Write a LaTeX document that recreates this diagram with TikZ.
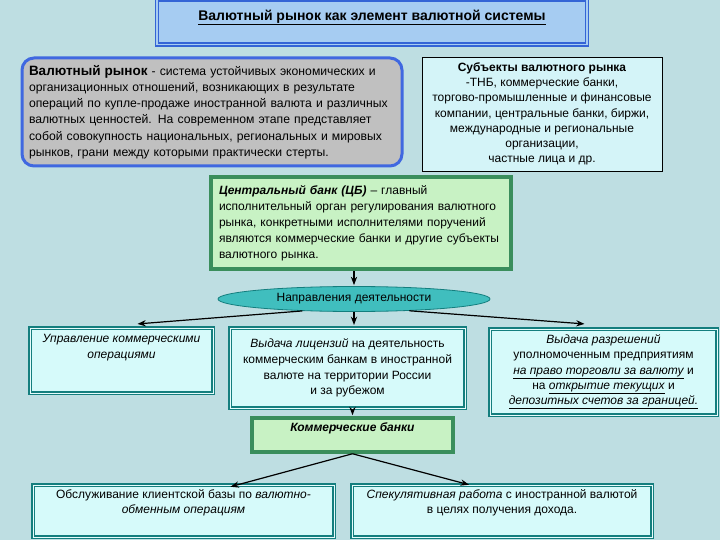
\documentclass[tikz,border=0pt]{standalone}
\usepackage{fontspec}
\setmainfont{Liberation Sans}
\usetikzlibrary{arrows.meta,shapes.geometric,positioning}
\definecolor{bgcol}{RGB}{190,222,226}
\definecolor{titlefill}{RGB}{166,204,242}
\definecolor{titleline}{RGB}{52,100,214}
\definecolor{grayfill}{RGB}{192,192,192}
\definecolor{bluerim}{RGB}{64,104,224}
\definecolor{cyanfill}{RGB}{212,244,248}
\definecolor{greenfill}{RGB}{200,242,196}
\definecolor{greenrim}{RGB}{58,142,92}
\definecolor{tealfill}{RGB}{214,250,250}
\definecolor{tealrim}{RGB}{20,126,126}
\definecolor{ovalfill}{RGB}{64,190,190}
\tikzset{
	>=Stealth,
	link/.style = {->, line width=1.2pt, black, shorten >=1pt},
	titlebox/.style = {
			draw=titleline, fill=titlefill,
			line width=1.5pt, double=titlefill, double distance=1.2pt,
		},
	defbox/.style = {
			draw=bluerim, fill=grayfill, line width=3pt,
			rounded corners=12pt,
		},
	subjbox/.style = {
			draw=black, fill=cyanfill, line width=0.8pt,
		},
	greenbox/.style = {
			draw=greenrim, fill=greenfill, line width=4pt,
		},
	tealbox/.style = {
			draw=tealrim, fill=tealfill, line width=4pt,
			postaction={draw=tealfill!60!white, line width=0.6pt},
		},
	oval/.style = {
			ellipse, draw=tealrim, fill=ovalfill, line width=0.8pt,
			minimum width=272pt, minimum height=25pt, inner sep=0pt,
		},
	boxtext/.style = {
			font=\fontsize{12}{15.8}\selectfont, align=center, inner sep=0pt,
		},
}

\begin{document}
\begin{tikzpicture}[x=1pt,y=-1pt]
	% Canvas
	\useasboundingbox[fill=bgcol] (0,0) rectangle (720,540);

	% Title
	\node[titlebox, minimum width=430pt, minimum height=45pt] (title) at (372,22) {};
	\node[boxtext, below=11pt of title.north, font=\fontsize{14}{16}\selectfont\bfseries]
		(titletext) {\underline{Валютный рынок как элемент валютной системы}};

	% Definition and subjects
	\node[defbox, minimum width=380pt, minimum height=108pt, text width=366pt,
		align=left, inner sep=0pt, font=\fontsize{12.2}{16.3}\selectfont] (market) at (212,112)
		{{\fontsize{13.5}{16.3}\selectfont\bfseries Валютный рынок} - система устойчивых экономических и\\
		организационных отношений, возникающих в результате\\
		операций по купле-продаже иностранной валюта и различных\\
		валютных ценностей. На современном этапе представляет\\
		собой совокупность национальных, региональных и мировых\\
		рынков, грани между которыми практически стерты.};
	\node[subjbox, minimum width=240pt, minimum height=114pt, boxtext,
		font=\fontsize{12}{15.2}\selectfont] (subjects) at (542,114)
		{\textbf{Субъекты валютного рынка}\\
		-ТНБ, коммерческие банки,\\
		торгово-промышленные и финансовые\\
		компании, центральные банки, биржи,\\
		международные и региональные\\
		организации,\\
		частные лица и др.};

	% Central bank
	\node[greenbox, minimum width=300pt, minimum height=92pt, text width=284pt,
		align=left, inner sep=0pt, font=\fontsize{12}{16}\selectfont] (cb) at (361,223)
		{\textbf{\textit{Центральный банк (ЦБ)}} – главный\\
		исполнительный орган регулирования валютного\\
		рынка, конкретными исполнителями поручений\\
		являются коммерческие банки и другие субъекты\\
		валютного рынка.};

	\node[oval, font=\fontsize{12}{14}\selectfont] (dirs) at (354,299) {Направления деятельности};

	% Directions
	\node[tealbox, minimum width=183pt, minimum height=65pt] (mgmt) at (121.5,360.5) {};
	\node[boxtext, below=8pt of mgmt.north] (mgmttext)
		{\textit{Управление коммерческими}\\ \textit{операциями}};
	\node[tealbox, minimum width=235pt, minimum height=80pt, boxtext] (lic) at (347.5,368)
		{\textit{Выдача лицензий} на деятельность\\
		коммерческим банкам в иностранной\\
		валюте на территории России\\
		и за рубежом};
	\node[tealbox, minimum width=227pt, minimum height=86pt, boxtext,
		font=\fontsize{12}{15.2}\selectfont] (perm) at (603.5,372)
		{\textit{Выдача разрешений}\\
		уполномоченным предприятиям\\
		\textit{\underline{на право торговли за валюту}} и\\
		на \textit{\underline{открытие текущих}} и\\
		\textit{\underline{депозитных счетов за границей.}}};

	% Commercial banks
	\node[greenbox, line width=3.5pt, minimum width=201pt, minimum height=34pt] (cbanks) at (352.5,435) {};
	\node[boxtext, below=6pt of cbanks.north] (cbankstext)
		{\textbf{\textit{Коммерческие банки}}};

	\node[tealbox, minimum width=301pt, minimum height=52pt] (serve) at (183.5,511) {};
	\node[boxtext, below=6pt of serve.north] (servetext)
		{Обслуживание клиентской базы по \textit{валютно-}\\ \textit{обменным операциям}};
	\node[tealbox, minimum width=300pt, minimum height=52pt] (spec) at (502,511) {};
	\node[boxtext, below=6pt of spec.north] (spectext)
		{\textit{Спекулятивная работа} с иностранной валютой\\ в целях получения дохода.};

	% Connectors
	\draw[link] (cb.south -| dirs.north) -- (dirs.north);
	\draw[link] (dirs.193) -- ([xshift=15pt,yshift=2pt]mgmt.north);
	\draw[link] (dirs.south) -- (dirs.south |- lic.north);
	\draw[link] (dirs.-12) -- ([xshift=-18pt,yshift=3pt]perm.north);
	\draw[link] (lic.south -| cbanks.north) -- (cbanks.north);
	\draw[link] (cbanks.south) -- ([xshift=46pt,yshift=-4pt]serve.north);
	\draw[link] (cbanks.south) -- ([xshift=-32pt,yshift=-2pt]spec.north);
\end{tikzpicture}
\end{document}
